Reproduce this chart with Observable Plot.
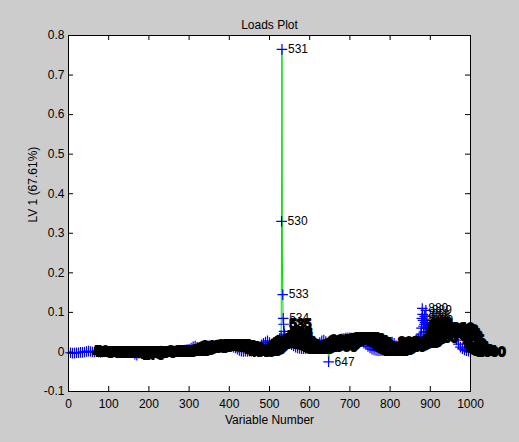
<!DOCTYPE html>
<html>
<head>
<meta charset="utf-8">
<script src="https://cdn.jsdelivr.net/npm/d3@7"></script>
<script src="https://cdn.jsdelivr.net/npm/@observablehq/plot@0.6"></script>
<style>
  html, body { margin: 0; padding: 0; background: #cccccc; }
</style>
</head>
<body>
<div id="chart"></div>
<script>
// ---- Data ----
const title = "Loads Plot";
const xLabel = "Variable Number";
const yLabel = "LV 1 (67.61%)";

const xTicks = [0, 100, 200, 300, 400, 500, 600, 700, 800, 900, 1000];
const yTicks = [-0.1, 0, 0.1, 0.2, 0.3, 0.4, 0.5, 0.6, 0.7, 0.8];

// loadings sampled every 5 variables (5 ... 1000)
const baseVariables = d3.range(5, 1001, 5);
const baseLoads = [
  -0.002,-0.003,-0.003,-0.002,-0.002,-0.001,-0.001,0.000,
  0.001,0.002,0.001,0.000,0.000,0.001,0.000,-0.001,0.000,0.001,0.000,0.000,
  0.000,-0.001,0.000,0.001,0.001,0.000,-0.001,0.000,0.000,0.001,
  0.000,-0.002,-0.006,-0.008,-0.003,0.000,0.001,0.000,0.000,-0.001,
  0.000,0.001,0.000,0.000,0.001,0.002,0.001,0.000,0.000,0.001,
  0.002,0.003,0.002,0.003,0.004,0.003,0.004,0.005,0.006,0.007,
  0.010,0.013,0.015,0.012,0.010,0.011,0.013,0.014,0.015,0.016,
  0.017,0.016,0.017,0.018,0.017,0.016,0.017,0.016,0.015,0.015,
  0.014,0.012,0.010,0.007,0.004,0.002,0.001,0.002,0.001,0.002,
  0.002,0.003,0.005,0.008,0.012,0.018,0.022,0.025,0.028,0.024,
  0.020,0.022,0.026,0.030,0.034,0.330,0.070,0.030,0.026,0.022,
  0.018,0.015,0.012,0.010,0.009,0.008,0.008,0.009,0.010,0.012,
  0.014,0.016,0.018,0.020,0.024,0.028,0.030,0.026,0.018,0.014,
  0.018,0.022,0.026,0.029,0.031,0.033,0.034,0.035,0.036,0.036,
  0.035,0.034,0.033,0.031,0.029,0.026,0.022,0.018,0.014,0.010,
  0.007,0.005,0.004,0.003,0.003,0.004,0.005,0.006,0.008,0.012,
  0.025,0.022,0.016,0.014,0.016,0.018,0.020,0.022,0.024,0.022,
  0.024,0.026,0.030,0.034,0.040,0.110,0.070,0.050,0.050,0.035,
  0.045,0.055,0.050,0.060,0.055,0.050,0.056,0.060,0.052,0.056,
  0.046,0.040,0.030,0.020,0.012,0.008,0.005,0.003,0.002,0.001
];

// individual variables around the peaks
const peakVariables = [529, 531, 532, 533, 534, 536, 537, 538, 647,
  877, 878, 879, 881, 882, 883, 884, 886, 887, 888, 889, 891, 892, 893, 894];
const peakLoads = [0.040, 0.765, 0.235, 0.145, 0.085, 0.052, 0.045, 0.040, -0.025,
  0.045, 0.060, 0.085, 0.095, 0.080, 0.065, 0.050, 0.090, 0.075, 0.060, 0.105, 0.070, 0.080, 0.060, 0.050];

const firstLabeled = 45;      // variables below this carry no text label
const lineOnly = [532];       // seen only as the green line, no marker/label

// ---- Build table ----
const byVar = new Map();
baseVariables.forEach((v, i) => byVar.set(v, baseLoads[i]));
peakVariables.forEach((v, i) => byVar.set(v, peakLoads[i]));
const data = Array.from(byVar, ([variable, load]) => ({variable, load}))
  .sort((a, b) => a.variable - b.variable);
const marked = data.filter(d => !lineOnly.includes(d.variable));
const labeled = marked.filter(d => d.variable >= firstLabeled);
// labels that stand clear of the crowded band near zero
const isolated = d => d.load >= 0.075 || d.load <= -0.015;
const crowdLabels = labeled.filter(d => !isolated(d));
const clearLabels = labeled.filter(isolated);

const W = 519, H = 442;
const mL = 68, mR = 49, mT = 35, mB = 51;
const frameH = H - mT - mB, frameW = W - mL - mR;
const tick = 5;

const chart = Plot.plot({
  width: W,
  height: H,
  marginLeft: mL, marginRight: mR, marginTop: mT, marginBottom: mB,
  style: {background: "#cccccc", fontFamily: "'Liberation Sans', Arial, sans-serif", fontSize: "12px", color: "black"},
  x: {domain: [0, 1000]},
  y: {domain: [-0.1, 0.8]},
  marks: [
    Plot.frame({fill: "white", stroke: null}),
    Plot.line(data, {x: "variable", y: "load", stroke: "#00dd00", strokeWidth: 1}),
    Plot.dot(marked, {x: "variable", y: "load", symbol: "plus", stroke: "#0000ff", r: 3.5, strokeWidth: 1.2}),
    Plot.text(crowdLabels, {x: "variable", y: "load", text: d => String(d.variable), textAnchor: "start", dx: 6,
      fill: "black", stroke: "black", strokeWidth: 2, fontSize: 13}),
    Plot.text(clearLabels, {x: "variable", y: "load", text: d => String(d.variable), textAnchor: "start", dx: 6,
      fill: "black", fontSize: 12}),
    Plot.frame({stroke: "black", strokeWidth: 1}),
    // inward ticks on all four sides
    Plot.tickX(xTicks, {x: d => d, insetTop: frameH - tick, stroke: "black"}),
    Plot.tickX(xTicks, {x: d => d, insetBottom: frameH - tick, stroke: "black"}),
    Plot.tickY(yTicks, {y: d => d, insetLeft: frameW - tick, stroke: "black"}),
    Plot.tickY(yTicks, {y: d => d, insetRight: frameW - tick, stroke: "black"}),
    Plot.axisX(xTicks, {tickSize: 0, tickPadding: 8, label: null, fontSize: 12, tickFormat: d => String(d)}),
    Plot.axisY(yTicks, {tickSize: 0, tickPadding: 4, label: null, fontSize: 12,
      tickFormat: d => d === 0 ? "0" : String(d)}),
    Plot.text([title], {frameAnchor: "top", dy: -15, fontSize: 12, fill: "black"}),
    Plot.text([xLabel], {frameAnchor: "bottom", dy: 32, fontSize: 12, fill: "black"}),
    Plot.text([yLabel], {frameAnchor: "left", dx: -35, dy: 9, rotate: -90, fontSize: 12, fill: "black"})
  ]
});
document.getElementById("chart").appendChild(chart);
</script>
</body>
</html>
